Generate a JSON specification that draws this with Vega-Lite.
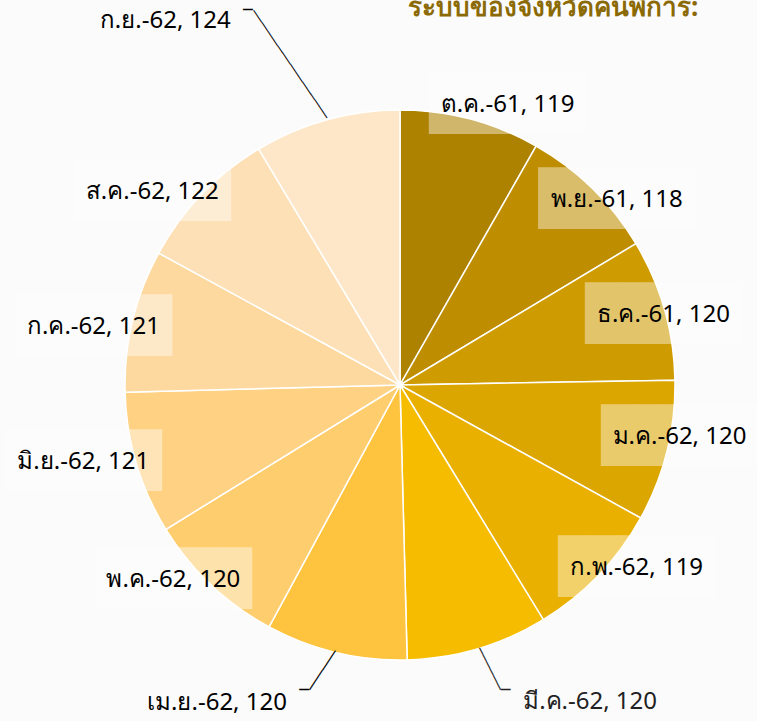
{
  "$schema": "https://vega.github.io/schema/vega-lite/v6.json",
  "width": 714,
  "height": 672,
  "autosize": {"type": "none"},
  "padding": {"left": 43, "top": 49, "right": 0, "bottom": 0},
  "background": "#fbfbfb",
  "config": {"view": {"stroke": null}},
  "title": {
    "text": "ระบบของจังหวัดคนพิการ:",
    "anchor": "start",
    "dx": 440,
    "dy": 102,
    "offset": 0,
    "baseline": "alphabetic",
    "fontSize": 26,
    "fontWeight": "bold",
    "font": "Noto Sans",
    "color": "#8B6A05"
  },
  "data": {
    "values": [
      {"n": 1, "month": "ต.ค.-61", "value": 119, "label": "ต.ค.-61, 119"},
      {"n": 2, "month": "พ.ย.-61", "value": 118, "label": "พ.ย.-61, 118"},
      {"n": 3, "month": "ธ.ค.-61", "value": 120, "label": "ธ.ค.-61, 120"},
      {"n": 4, "month": "ม.ค.-62", "value": 120, "label": "ม.ค.-62, 120"},
      {"n": 5, "month": "ก.พ.-62", "value": 119, "label": "ก.พ.-62, 119"},
      {"n": 6, "month": "มี.ค.-62", "value": 120, "label": "มี.ค.-62, 120"},
      {"n": 7, "month": "เม.ย.-62", "value": 120, "label": "เม.ย.-62, 120"},
      {"n": 8, "month": "พ.ค.-62", "value": 120, "label": "พ.ค.-62, 120"},
      {"n": 9, "month": "มิ.ย.-62", "value": 121, "label": "มิ.ย.-62, 121"},
      {"n": 10, "month": "ก.ค.-62", "value": 121, "label": "ก.ค.-62, 121"},
      {"n": 11, "month": "ส.ค.-62", "value": 122, "label": "ส.ค.-62, 122"},
      {"n": 12, "month": "ก.ย.-62", "value": 124, "label": "ก.ย.-62, 124"}
    ]
  },
  "encoding": {
    "theta": {"field": "value", "type": "quantitative", "stack": true},
    "order": {"field": "n", "type": "quantitative"}
  },
  "layer": [
    {
      "mark": {"type": "arc", "outerRadius": 275, "stroke": "white", "strokeWidth": 1.5},
      "encoding": {
        "color": {
          "field": "month",
          "type": "nominal",
          "legend": null,
          "scale": {
            "domain": ["ต.ค.-61", "พ.ย.-61", "ธ.ค.-61", "ม.ค.-62", "ก.พ.-62", "มี.ค.-62", "เม.ย.-62", "พ.ค.-62", "มิ.ย.-62", "ก.ค.-62", "ส.ค.-62", "ก.ย.-62"],
            "range": ["#AD8200", "#BE8E00", "#CE9B00", "#DCA600", "#E9B000", "#F6BC00", "#FEC43F", "#FECD6E", "#FED183", "#FDD99F", "#FDE0B5", "#FEE7C8"]
          }
        }
      }
    },
    {"mark": {"type": "text", "radius": 300, "thetaOffset": 0.108, "font": "DejaVu Sans Mono", "fontSize": 52, "color": "white", "opacity": 0.42},
     "encoding": {"text": {"condition": {"test": "datum.month === 'ต.ค.-61'", "value": "█████"}, "value": ""}}},
    {"mark": {"type": "text", "radius": 285, "thetaOffset": 0.090, "font": "DejaVu Sans Mono", "fontSize": 52, "color": "white", "opacity": 0.42},
     "encoding": {"text": {"condition": {"test": "datum.month === 'พ.ย.-61'", "value": "█████"}, "value": ""}}},
    {"mark": {"type": "text", "radius": 272.6, "thetaOffset": 0.018, "font": "DejaVu Sans Mono", "fontSize": 52, "color": "white", "opacity": 0.42},
     "encoding": {"text": {"condition": {"test": "datum.month === 'ธ.ค.-61'", "value": "█████"}, "value": ""}}},
    {"mark": {"type": "text", "radius": 284.3, "thetaOffset": -0.060, "font": "DejaVu Sans Mono", "fontSize": 52, "color": "white", "opacity": 0.42},
     "encoding": {"text": {"condition": {"test": "datum.month === 'ม.ค.-62'", "value": "█████"}, "value": ""}}},
    {"mark": {"type": "text", "radius": 299, "thetaOffset": -0.106, "font": "DejaVu Sans Mono", "fontSize": 52, "color": "white", "opacity": 0.42},
     "encoding": {"text": {"condition": {"test": "datum.month === 'ก.พ.-62'", "value": "█████"}, "value": ""}}},
    {"mark": {"type": "text", "radius": 299, "thetaOffset": 0.103, "font": "DejaVu Sans Mono", "fontSize": 52, "color": "white", "opacity": 0.42},
     "encoding": {"text": {"condition": {"test": "datum.month === 'พ.ค.-62'", "value": "█████"}, "value": ""}}},
    {"mark": {"type": "text", "radius": 326, "thetaOffset": 0.050, "font": "DejaVu Sans Mono", "fontSize": 52, "color": "white", "opacity": 0.42},
     "encoding": {"text": {"condition": {"test": "datum.month === 'มิ.ย.-62'", "value": "█████"}, "value": ""}}},
    {"mark": {"type": "text", "radius": 312, "thetaOffset": -0.050, "font": "DejaVu Sans Mono", "fontSize": 52, "color": "white", "opacity": 0.42},
     "encoding": {"text": {"condition": {"test": "datum.month === 'ก.ค.-62'", "value": "█████"}, "value": ""}}},
    {"mark": {"type": "text", "radius": 314, "thetaOffset": -0.104, "font": "DejaVu Sans Mono", "fontSize": 52, "color": "white", "opacity": 0.42},
     "encoding": {"text": {"condition": {"test": "datum.month === 'ส.ค.-62'", "value": "█████"}, "value": ""}}},
    {"mark": {"type": "text", "radius": 300, "thetaOffset": 0.108, "font": "Noto Sans", "fontSize": 24, "color": "black"},
     "encoding": {"text": {"condition": {"test": "datum.month === 'ต.ค.-61'", "field": "label"}, "value": ""}}},
    {"mark": {"type": "text", "radius": 285, "thetaOffset": 0.090, "font": "Noto Sans", "fontSize": 24, "color": "black"},
     "encoding": {"text": {"condition": {"test": "datum.month === 'พ.ย.-61'", "field": "label"}, "value": ""}}},
    {"mark": {"type": "text", "radius": 272.6, "thetaOffset": 0.018, "font": "Noto Sans", "fontSize": 24, "color": "black"},
     "encoding": {"text": {"condition": {"test": "datum.month === 'ธ.ค.-61'", "field": "label"}, "value": ""}}},
    {"mark": {"type": "text", "radius": 284.3, "thetaOffset": -0.060, "font": "Noto Sans", "fontSize": 24, "color": "black"},
     "encoding": {"text": {"condition": {"test": "datum.month === 'ม.ค.-62'", "field": "label"}, "value": ""}}},
    {"mark": {"type": "text", "radius": 299, "thetaOffset": -0.106, "font": "Noto Sans", "fontSize": 24, "color": "black"},
     "encoding": {"text": {"condition": {"test": "datum.month === 'ก.พ.-62'", "field": "label"}, "value": ""}}},
    {"mark": {"type": "text", "radius": 369.6, "thetaOffset": -0.253, "font": "Noto Sans", "fontSize": 24, "color": "#222222"},
     "encoding": {"text": {"condition": {"test": "datum.month === 'มี.ค.-62'", "field": "label"}, "value": ""}}},
    {"mark": {"type": "text", "radius": 367, "thetaOffset": 0.287, "font": "Noto Sans", "fontSize": 24, "color": "black"},
     "encoding": {"text": {"condition": {"test": "datum.month === 'เม.ย.-62'", "field": "label"}, "value": ""}}},
    {"mark": {"type": "text", "radius": 299, "thetaOffset": 0.103, "font": "Noto Sans", "fontSize": 24, "color": "black"},
     "encoding": {"text": {"condition": {"test": "datum.month === 'พ.ค.-62'", "field": "label"}, "value": ""}}},
    {"mark": {"type": "text", "radius": 326, "thetaOffset": 0.050, "font": "Noto Sans", "fontSize": 24, "color": "black"},
     "encoding": {"text": {"condition": {"test": "datum.month === 'มิ.ย.-62'", "field": "label"}, "value": ""}}},
    {"mark": {"type": "text", "radius": 312, "thetaOffset": -0.050, "font": "Noto Sans", "fontSize": 24, "color": "black"},
     "encoding": {"text": {"condition": {"test": "datum.month === 'ก.ค.-62'", "field": "label"}, "value": ""}}},
    {"mark": {"type": "text", "radius": 314, "thetaOffset": -0.104, "font": "Noto Sans", "fontSize": 24, "color": "black"},
     "encoding": {"text": {"condition": {"test": "datum.month === 'ส.ค.-62'", "field": "label"}, "value": ""}}},
    {"mark": {"type": "text", "radius": 433, "thetaOffset": -0.303, "font": "Noto Sans", "fontSize": 24, "color": "black"},
     "encoding": {"text": {"condition": {"test": "datum.month === 'ก.ย.-62'", "field": "label"}, "value": ""}}},
    {"mark": {"type": "text", "radius": 339, "thetaOffset": -0.060, "angle": 55.65, "font": "DejaVu Sans Mono", "fontSize": 12, "color": "black"},
     "encoding": {"text": {"condition": {"test": "datum.month === 'ก.ย.-62'", "value": "──────────────────"}, "value": ""}}},
    {"mark": {"type": "text", "radius": 404.6, "thetaOffset": -0.116, "font": "DejaVu Sans Mono", "fontSize": 16, "color": "black"},
     "encoding": {"text": {"condition": {"test": "datum.month === 'ก.ย.-62'", "value": "─"}, "value": ""}}},
    {"mark": {"type": "text", "radius": 297.8, "thetaOffset": -0.018, "angle": 63.4, "font": "DejaVu Sans Mono", "fontSize": 13, "color": "#222222"},
     "encoding": {"text": {"condition": {"test": "datum.month === 'มี.ค.-62'", "value": "──────"}, "value": ""}}},
    {"mark": {"type": "text", "radius": 322.7, "thetaOffset": -0.046, "font": "DejaVu Sans Mono", "fontSize": 16, "color": "#222222"},
     "encoding": {"text": {"condition": {"test": "datum.month === 'มี.ค.-62'", "value": "─"}, "value": ""}}},
    {"mark": {"type": "text", "radius": 295.7, "thetaOffset": 0.029, "angle": -56.3, "font": "DejaVu Sans Mono", "fontSize": 13, "color": "black"},
     "encoding": {"text": {"condition": {"test": "datum.month === 'เม.ย.-62'", "value": "──────"}, "value": ""}}},
    {"mark": {"type": "text", "radius": 319.8, "thetaOffset": 0.070, "font": "DejaVu Sans Mono", "fontSize": 16, "color": "black"},
     "encoding": {"text": {"condition": {"test": "datum.month === 'เม.ย.-62'", "value": "─"}, "value": ""}}}
  ]
}
